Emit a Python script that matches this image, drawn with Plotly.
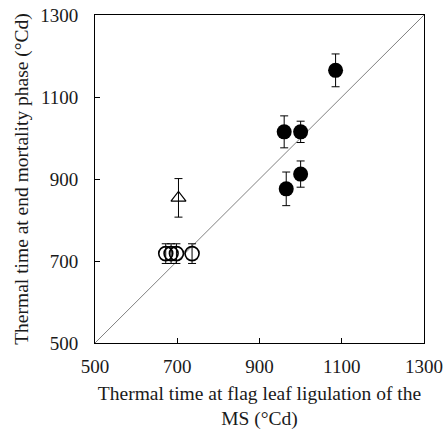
import plotly.graph_objects as go

# Filled circles
filled_x = [1085, 960, 1000, 1000, 965]
filled_y = [1165, 1015, 1015, 912, 876]
filled_err = [40, 39, 26, 32, 41]

# Open triangle
tri_x = [703]
tri_y = [854]
tri_err = [47]

# Open circles
open_x = [672, 685, 698, 736]
open_y = [718, 718, 718, 718]
open_err = [24, 24, 24, 24]

one_to_one = [500, 1300]
ticks = [500, 700, 900, 1100, 1300]

fig = go.Figure()
fig.add_trace(go.Scatter(x=one_to_one, y=one_to_one, mode="lines",
                         line=dict(color="#808080", width=1), hoverinfo="skip"))
fig.add_trace(go.Scatter(x=open_x, y=open_y, mode="markers",
                         marker=dict(symbol="circle-open", size=14, color="black", line=dict(width=1.6)),
                         error_y=dict(type="data", array=open_err, color="black", thickness=1, width=4)))
fig.add_trace(go.Scatter(x=tri_x, y=tri_y, mode="markers",
                         marker=dict(symbol="triangle-up-open", size=13, color="black", line=dict(width=1.2)),
                         error_y=dict(type="data", array=tri_err, color="black", thickness=1, width=4)))
fig.add_trace(go.Scatter(x=filled_x, y=filled_y, mode="markers",
                         marker=dict(symbol="circle", size=15, color="black"),
                         error_y=dict(type="data", array=filled_err, color="black", thickness=1, width=4)))

tfont = dict(family="Liberation Serif", size=19, color="#1a1a1a")
hfont = dict(family="Liberation Serif", size=19.5, color="#1a1a1a")
axis_common = dict(showgrid=False, zeroline=False, showline=True, linecolor="black", linewidth=1,
                   mirror=True, ticks="inside", ticklen=5, tickcolor="black", automargin=False,
                   tickvals=ticks, range=[500, 1300], tickfont=tfont)
fig.update_layout(
    width=445, height=430, showlegend=False,
    plot_bgcolor="white", paper_bgcolor="white",
    margin=dict(l=95, r=21, t=15, b=87),
    font=tfont,
    xaxis=dict(**axis_common, ticklabelstandoff=6,
               title=dict(text="Thermal time at flag leaf ligulation of the<br>MS (°Cd)", font=hfont, standoff=11)),
    yaxis=dict(**axis_common, ticklabelstandoff=12,
               title=dict(text="Thermal time at end mortality phase (°Cd)", font=hfont, standoff=6)),
)
fig.write_html("out.html")
